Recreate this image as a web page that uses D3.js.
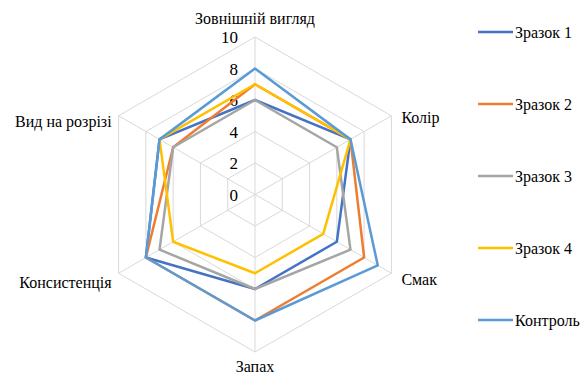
<!DOCTYPE html>
<meta charset="utf-8">
<script src="https://d3js.org/d3.v7.min.js"></script>
<style>
  body { margin: 0; background: #fff; }
</style>
<div id="radar"></div>
<script>
// axes, clockwise from the top
var categories = ["Зовнішній вигляд", "Колір", "Смак", "Запах", "Консистенція", "Вид на розрізі"];
var seriesNames = ["Зразок 1", "Зразок 2", "Зразок 3", "Зразок 4", "Контроль"];
var zrazok1 = [6, 7, 6, 6, 8, 7];
var zrazok2 = [7, 7, 8, 8, 8, 6];
var zrazok3 = [6, 6, 7, 6, 7, 6];
var zrazok4 = [7, 7, 5, 5, 6, 7];
var kontrol = [8, 7, 9, 8, 8, 7];
var tickValues = [0, 2, 4, 6, 8, 10];

var seriesValues = [zrazok1, zrazok2, zrazok3, zrazok4, kontrol];
var colors = ["#4472C4", "#ED7D31", "#A5A5A5", "#FFC000", "#5B9BD5"];

var width = 585, height = 376;
var cx = 255, cy = 194.5, radius = 157.5;
var font = "'Liberation Serif', 'Times New Roman', serif";

var svg = d3.select("#radar").append("svg")
    .attr("width", width)
    .attr("height", height)
    .attr("font-family", font)
    .attr("font-size", 16);

var r = d3.scaleLinear().domain([0, 10]).range([0, radius]);
var angle = d3.scalePoint().domain(categories).range([0, 2 * Math.PI * 5 / 6]);

function px(cat, v) { return cx + r(v) * Math.sin(angle(cat)); }
function py(cat, v) { return cy - r(v) * Math.cos(angle(cat)); }

var g = svg.append("g");

// rings
tickValues.filter(function (t) { return t > 0; }).forEach(function (t) {
  g.append("polygon")
    .attr("points", categories.map(function (c) { return px(c, t) + "," + py(c, t); }).join(" "))
    .attr("fill", "none")
    .attr("stroke", "#d9d9d9")
    .attr("stroke-width", 1);
});

// spokes
categories.forEach(function (c) {
  g.append("line")
    .attr("x1", cx).attr("y1", cy)
    .attr("x2", px(c, 10)).attr("y2", py(c, 10))
    .attr("stroke", "#d9d9d9")
    .attr("stroke-width", 1);
});

// tick labels along the top axis
tickValues.forEach(function (t) {
  g.append("text")
    .attr("x", cx - 17)
    .attr("y", cy - r(t))
    .attr("text-anchor", "end")
    .attr("dy", "0.38em")
    .attr("font-size", 17)
    .text(t);
});

// series
var line = d3.line().curve(d3.curveLinearClosed);
seriesValues.forEach(function (vals, i) {
  g.append("path")
    .attr("d", line(categories.map(function (c, j) { return [px(c, vals[j]), py(c, vals[j])]; })))
    .attr("fill", "none")
    .attr("stroke", colors[i])
    .attr("stroke-width", 2.5)
    .attr("stroke-linejoin", "round");
});

// category labels
var labelPos = [
  {x: cx, y: 24, anchor: "middle"},
  {x: px(categories[1], 10) + 10, y: py(categories[1], 10) + 2, anchor: "start"},
  {x: px(categories[2], 10) + 10, y: py(categories[2], 10) + 6, anchor: "start"},
  {x: cx, y: 372, anchor: "middle"},
  {x: px(categories[4], 10) - 7, y: py(categories[4], 10) + 9, anchor: "end"},
  {x: px(categories[5], 10) - 7, y: py(categories[5], 10) + 6, anchor: "end"}
];
categories.forEach(function (c, i) {
  g.append("text")
    .attr("x", labelPos[i].x)
    .attr("y", labelPos[i].y)
    .attr("text-anchor", labelPos[i].anchor)
    .attr("dy", i == 0 || i == 3 ? 0 : "0.35em")
    .text(c);
});

// legend
var legend = svg.append("g");
seriesNames.forEach(function (name, i) {
  var ly = 32 + i * 72;
  legend.append("line")
    .attr("x1", 478).attr("x2", 513)
    .attr("y1", ly).attr("y2", ly)
    .attr("stroke", colors[i])
    .attr("stroke-width", 2.5);
  legend.append("text")
    .attr("x", 515)
    .attr("y", ly)
    .attr("dy", "0.35em")
    .text(name);
});
</script>
